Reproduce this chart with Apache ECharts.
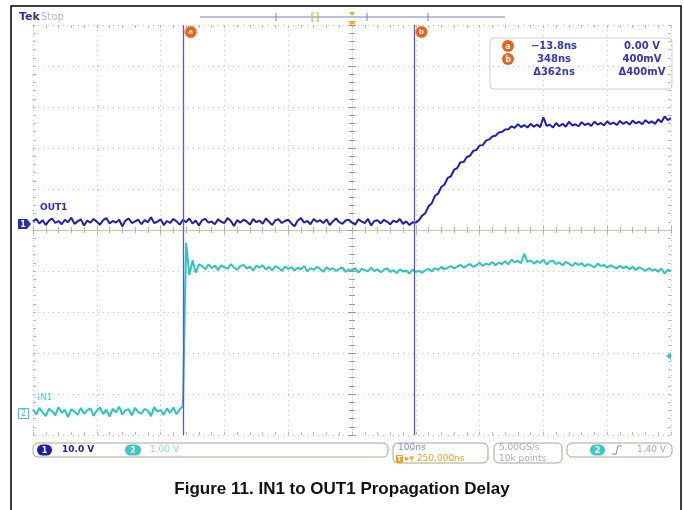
<!DOCTYPE html>
<html><head><meta charset="utf-8">
<script src="https://cdn.jsdelivr.net/npm/echarts/dist/echarts.min.js"></script>
<style>html,body{margin:0;padding:0;background:#fff}#c{width:684px;height:510px}</style>
</head><body><div id="c"></div><script>
// sample instants (ns): -250 .. 750, every 5 ns
const T_START = -250, T_STEP = 5, T_END = 750;
// OUT1 (channel 1, volts)
const out1 = [
0.6,1.2,0.1,0.9,-0.3,0.8,1.3,0.2,0.7,-0.1,1.0,0.4,1.5,0.0,0.6,1.1,-0.4,0.8,0.3,1.2,
0.5,-0.2,0.9,1.4,0.1,0.7,0.3,1.0,-0.6,0.8,1.3,0.2,0.6,1.0,-0.1,0.9,0.4,1.6,0.2,0.5,
1.1,-0.3,0.7,0.2,1.2,0.6,-0.2,1.0,0.4,1.3,0.1,0.8,-0.4,0.9,1.2,0.3,0.6,-0.1,1.1,0.5,
0.2,1.4,0.7,-0.5,0.9,0.3,1.0,0.6,-0.2,1.2,0.4,0.8,0.0,1.3,0.5,-0.3,0.9,1.1,0.2,0.7,
1.0,0.1,-0.6,0.8,1.4,0.3,0.7,-0.1,1.2,0.5,0.9,0.2,1.1,-0.3,0.6,1.3,0.4,0.0,0.8,1.0,
0.3,-0.2,1.1,0.6,0.2,1.2,-0.4,0.7,0.9,0.1,1.0,0.5,-0.1,0.8,0.4,1.2,0.0,0.6,-0.3,0.4,
0.3,0.9,2.0,2.6,4.3,5.0,6.8,7.4,9.0,9.6,11.2,11.6,13.2,13.6,15.0,15.1,16.3,16.6,17.8,18.0,
19.1,19.2,20.3,20.6,21.3,21.5,22.3,22.4,23.0,23.1,23.8,23.4,24.3,23.6,24.1,23.5,24.4,23.7,24.2,23.6,
26.0,23.9,24.2,23.5,24.6,23.8,24.4,23.7,24.9,24.0,24.3,23.8,24.8,24.1,24.5,23.9,24.9,24.2,24.6,24.0,
25.0,24.3,24.7,24.1,25.1,24.4,24.9,24.2,25.2,24.5,24.9,24.3,25.3,24.6,25.0,24.4,25.5,24.8,26.2,25.3,
25.8
];
// IN1 (channel 2, volts)
const in1 = [
0.08,-0.04,0.12,0.02,-0.08,0.10,0.04,-0.06,0.14,0.00,0.07,-0.10,0.09,0.03,-0.05,0.12,-0.02,0.06,0.11,-0.07,
0.05,0.13,-0.03,0.08,-0.09,0.10,0.01,0.15,-0.04,0.06,0.09,-0.06,0.12,0.02,-0.02,0.10,0.05,-0.08,0.14,0.03,
0.07,-0.05,0.11,0.00,0.13,-0.03,0.09,0.16,
4.15,3.36,3.72,3.42,3.62,
3.58,3.50,3.62,3.53,3.59,3.48,3.60,3.55,3.51,3.63,3.54,3.49,3.58,3.61,3.52,3.57,3.47,3.59,3.54,3.60,
3.50,3.56,3.48,3.58,3.53,3.46,3.57,3.51,3.55,3.47,3.54,3.50,3.58,3.45,3.53,3.49,3.56,3.51,3.44,3.55,
3.49,3.53,3.46,3.51,3.55,3.44,3.50,3.47,3.53,3.42,3.51,3.48,3.45,3.54,3.46,3.50,3.43,3.49,3.52,3.44,
3.48,3.41,3.50,3.45,3.47,3.40,3.49,3.44,3.46,3.42,3.48,3.51,3.45,3.53,3.49,3.56,3.50,3.54,3.58,3.52,
3.57,3.61,3.54,3.59,3.63,3.56,3.60,3.66,3.58,3.64,3.61,3.68,3.60,3.66,3.63,3.70,3.62,3.74,3.67,3.71,
3.65,3.88,3.68,3.72,3.64,3.70,3.66,3.73,3.62,3.69,3.71,3.63,3.67,3.60,3.68,3.64,3.58,3.66,3.61,3.65,
3.57,3.63,3.59,3.55,3.64,3.58,3.61,3.54,3.60,3.56,3.52,3.59,3.53,3.57,3.50,3.56,3.48,3.55,3.51,3.46,
3.53,3.47,3.50,3.44,3.52,3.40,3.49,3.46
];
// channel settings: volts per division and ground position (divisions from centre)
const CH1_VDIV = 10.0, CH1_POS = 0.15;
const CH2_VDIV = 1.00, CH2_POS = -4.46;
// cursors (ns)
const cursorTimes = [-13.8, 348];
const cursorNames = ['a', 'b'];
const readout = [['\u221213.8ns', '0.00 V'], ['348ns', '400mV'], ['\u0394362ns', '\u0394400mV']];

const times = [];
for (let t = T_START; t <= T_END; t += T_STEP) times.push(t);
const s1 = times.map((t, i) => [t, out1[i] / CH1_VDIV + CH1_POS]);
const s2 = times.map((t, i) => [t, in1[i] / CH2_VDIV + CH2_POS]);

const G = {left: 33, top: 25, width: 638, height: 410};
const FONT = 'DejaVu Sans';
const gridDot = {show: true, lineStyle: {color: '#c4c4c4', type: [1, 4], width: 1}};
function edgeX(pos, split) {
  return {type: 'value', gridIndex: 0, position: pos, min: -250, max: 750, interval: 100,
    axisLine: {show: false, onZero: false}, axisLabel: {show: false},
    axisTick: {show: true, inside: true, length: 3, lineStyle: {color: '#bbbbbb'}},
    minorTick: {show: true, splitNumber: 5, length: 3, lineStyle: {color: '#bbbbbb'}},
    splitLine: split ? gridDot : {show: false}};
}
function edgeY(pos, split) {
  return {type: 'value', gridIndex: 0, position: pos, min: -5, max: 5, interval: 1,
    axisLine: {show: false, onZero: false}, axisLabel: {show: false},
    axisTick: {show: true, inside: true, length: 3, lineStyle: {color: '#bbbbbb'}},
    minorTick: {show: true, splitNumber: 5, length: 3, lineStyle: {color: '#bbbbbb'}},
    splitLine: split ? gridDot : {show: false}};
}
function centreAxis(gi, inside, c, lc) {
  return {type: 'value', gridIndex: gi, min: -5, max: 5, interval: 1,
    axisLine: {show: true, onZero: true, lineStyle: {color: lc, width: 1}}, axisLabel: {show: false},
    axisTick: {show: true, inside: inside, length: 4, lineStyle: {color: c}},
    minorTick: {show: true, splitNumber: 5, length: 3, lineStyle: {color: c}},
    splitLine: {show: false}};
}

const txt = (x, y, s, fill, size, weight, align) => ({type: 'text', x: x, y: y, silent: true,
  style: {text: s, fill: fill, font: (weight || 'normal') + ' ' + size + 'px "' + FONT + '"',
  textAlign: align || 'left', textVerticalAlign: 'middle'}});
const badge = (cx, cy, s, fill) => [
  {type: 'circle', shape: {cx: cx, cy: cy, r: 6}, style: {fill: fill}, silent: true},
  txt(cx, cy + 0.5, s, '#fff', 8, 'bold', 'center')];
const pill = (x, y, w, s, fill) => [
  {type: 'rect', shape: {x: x, y: y - 5.5, width: w, height: 11, r: 5.5}, style: {fill: fill}, silent: true},
  txt(x + w / 2, y + 0.5, s, '#fff', 8, 'bold', 'center')];
const box = (x, y, w, h) => ({type: 'rect', shape: {x: x, y: y, width: w, height: h, r: 5},
  style: {fill: 'none', stroke: '#aaa58c', lineWidth: 1}, silent: true});

const graphics = [
  {type: 'polyline', shape: {points: [[11, 510], [11, 6], [681, 6], [681, 510]]}, style: {stroke: '#000', lineWidth: 1.5, fill: null}, silent: true},
  txt(19, 17, 'Tek', '#4a2a88', 11, 'bold'),
  txt(41, 17, 'Stop', '#a9bad8', 10),
  {type: 'line', shape: {x1: 200, y1: 17, x2: 505, y2: 17}, style: {stroke: '#7b7bd0', lineWidth: 1}, silent: true},
  {type: 'line', shape: {x1: 276, y1: 13, x2: 276, y2: 21}, style: {stroke: '#7b7bd0', lineWidth: 1}, silent: true},
  {type: 'line', shape: {x1: 367, y1: 13, x2: 367, y2: 21}, style: {stroke: '#7b7bd0', lineWidth: 1}, silent: true},
  {type: 'line', shape: {x1: 428, y1: 13, x2: 428, y2: 21}, style: {stroke: '#7b7bd0', lineWidth: 1}, silent: true},
  {type: 'polyline', shape: {points: [[314, 13], [312, 13], [312, 21], [314, 21]]}, style: {stroke: '#e0b030', lineWidth: 1.2, fill: null}, silent: true},
  {type: 'polyline', shape: {points: [[316, 13], [318, 13], [318, 21], [316, 21]]}, style: {stroke: '#e0b030', lineWidth: 1.2, fill: null}, silent: true},
  {type: 'polygon', shape: {points: [[349, 12], [355, 12], [352, 16]]}, style: {fill: '#f0b020'}, silent: true},
  {type: 'polygon', shape: {points: [[348, 21], [356, 21], [352, 27]]}, style: {fill: '#f0b020'}, silent: true},
  // cursor readout
  {type: 'rect', shape: {x: 490, y: 38, width: 182, height: 51, r: 4}, style: {fill: '#fff', stroke: '#cfd0d8', lineWidth: 1}, silent: true},
  ...badge(508, 46, 'a', '#e8621c'),
  ...badge(508, 59, 'b', '#e8621c'),
  txt(554, 46, readout[0][0], '#3535c0', 10, 'bold', 'center'),
  txt(642, 46, readout[0][1], '#3535c0', 10, 'bold', 'center'),
  txt(554, 59, readout[1][0], '#3535c0', 10, 'bold', 'center'),
  txt(642, 59, readout[1][1], '#3535c0', 10, 'bold', 'center'),
  txt(554, 72, readout[2][0], '#3535c0', 10, 'bold', 'center'),
  txt(642, 72, readout[2][1], '#3535c0', 10, 'bold', 'center'),
  // channel markers / labels
  {type: 'polygon', shape: {points: [[18, 219], [27, 219], [31, 224], [27, 229], [18, 229]]}, style: {fill: '#2a2ab8'}, silent: true},
  txt(23, 224.5, '1', '#fff', 8, 'bold', 'center'),
  txt(40, 208, 'OUT1', '#2a2ab8', 9, 'bold'),
  {type: 'rect', shape: {x: 18.5, y: 408.5, width: 10, height: 10}, style: {fill: '#fff', stroke: '#3cc8c8', lineWidth: 1}, silent: true},
  txt(23.5, 414, '2', '#3cc8c8', 8, 'normal', 'center'),
  txt(34, 398, '-IN1', '#4fcfcf', 9),
  {type: 'polygon', shape: {points: [[671, 352], [671, 360], [666, 356]]}, style: {fill: '#3cc8c8'}, silent: true},
  // status bar
  box(33, 443, 355, 14),
  ...pill(37, 450, 15, '1', '#1e1ea8'),
  txt(62, 450, '10.0 V', '#1e1ea8', 9, 'bold'),
  ...pill(125, 450, 16, '2', '#3cc8c8'),
  txt(150, 450, '1.00 V', '#8adada', 9),
  box(393, 443, 95, 20),
  txt(398, 448, '100ns', '#7d8ac8', 9),
  {type: 'rect', shape: {x: 396, y: 455, width: 7, height: 8, r: 1}, style: {fill: '#f0a020'}, silent: true},
  txt(399.5, 459, 'T', '#fff', 7, 'bold', 'center'),
  txt(405, 459, '\u25b8\u25be 250.000ns', '#f0a020', 9),
  box(494, 443, 68, 20),
  txt(499, 448, '5.00GS/s', '#a2aacb', 9),
  txt(499, 459, '10k points', '#a2aacb', 9),
  box(567, 443, 105, 14),
  ...pill(590, 450, 15, '2', '#3cc8c8'),
  {type: 'polyline', shape: {points: [[612, 454], [616, 454], [618, 446], [622, 446]]}, style: {stroke: '#8a8a9a', lineWidth: 1, fill: null}, silent: true},
  txt(666, 450, '1.40 V', '#a2aacb', 9, 'normal', 'right')
];

const xc = centreAxis(1, false, '#b9b39a', '#ccc5a8');
const xc2 = centreAxis(2, true, '#b9b39a', '#ccc5a8');
const yc = centreAxis(1, false, '#9a9a9a', '#e2e2e2');
const yc2 = centreAxis(2, true, '#9a9a9a', '#e2e2e2');

const chart = echarts.init(document.getElementById('c'));
chart.setOption({
  animation: false,
  backgroundColor: '#fff',
  title: {text: 'Figure 11. IN1 to OUT1 Propagation Delay', left: 'center', top: 476,
    textStyle: {fontFamily: 'Liberation Sans', fontWeight: 'bold', fontSize: 17, color: '#111'}},
  grid: [Object.assign({}, G), Object.assign({}, G), Object.assign({}, G)],
  xAxis: [edgeX('bottom', true), edgeX('top', false), xc, xc2],
  yAxis: [edgeY('left', true), edgeY('right', false), yc, yc2],
  series: [
    {name: 'IN1', type: 'line', xAxisIndex: 0, yAxisIndex: 0, data: s2, showSymbol: false, silent: true,
      lineStyle: {color: '#2cc4be', width: 2}},
    {name: 'OUT1', type: 'line', xAxisIndex: 0, yAxisIndex: 0, data: s1, showSymbol: false, silent: true,
      lineStyle: {color: '#1f1fb0', width: 2},
      markLine: {silent: true, symbol: 'none', label: {show: false},
        lineStyle: {color: '#5656d6', type: 'solid', width: 1.3},
        data: cursorTimes.map(t => ({xAxis: t}))},
      markPoint: {silent: true, symbol: 'circle', symbolSize: 12,
        itemStyle: {color: '#e8621c', borderColor: '#f6b080', borderWidth: 1},
        label: {show: true, color: '#fff', fontSize: 8, fontWeight: 'bold', formatter: p => p.name},
        data: cursorTimes.map((t, i) => ({name: cursorNames[i], coord: [t, 5], symbolOffset: [7, 7]}))}
    }
  ],
  graphic: graphics
});
</script></body></html>
